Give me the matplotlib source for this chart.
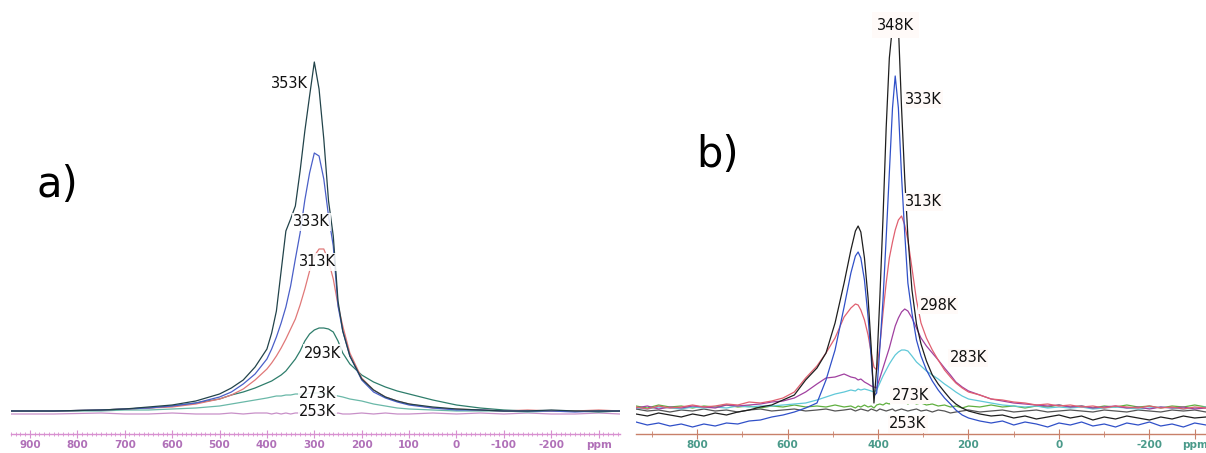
import numpy as np
import matplotlib
matplotlib.use("Agg")
import matplotlib.pyplot as plt
from matplotlib.ticker import MultipleLocator, FixedLocator, FixedFormatter

# ---- panel a) : shift (ppm) and intensity ----
ppm_a = [940, 850, 750, 700, 650, 600, 550, 500, 475, 450, 425, 400,
         390, 380, 370, 360, 350, 340, 330, 320, 310, 300,
         290, 280, 270, 260, 250, 240, 225, 200, 175, 150, 125, 100, 50, 0,
         -50, -100, -150, -200, -250, -300, -345]

a_353 = [0, 0, 1, 2, 4, 6, 10, 17, 23, 31, 44, 62,
         78, 100, 140, 180, 192, 205, 240, 280, 315, 349,
         322, 272, 210, 175, 110, 80, 55, 32, 21, 14, 10, 7, 4, 2,
         1, 0, 0, 1, 0, 0, 0]
a_333 = [0, 0, 1, 2, 3, 5, 8, 14, 19, 27, 37, 52,
         62, 74, 88, 104, 125, 152, 178, 211, 238, 258,
         255, 232, 195, 165, 105, 80, 55, 31, 19, 13, 9, 6, 3, 1,
         1, 0, 0, 0, -1, 0, 0]
a_313 = [0, 0, 1, 2, 3, 4, 7, 12, 16, 22, 31, 42,
         48, 55, 63, 72, 82, 92, 106, 122, 140, 155,
         162, 162, 150, 132, 106, 85, 58, 33, 21, 14, 10, 7, 3, 2,
         1, 0, 1, 0, 0, 1, 0]
a_293 = [0, 0, 1, 2, 3, 5, 8, 12, 16, 19, 23, 28,
         30, 33, 36, 40, 46, 52, 60, 70, 77, 81,
         83, 83, 82, 79, 70, 58, 47, 36, 29, 24, 20, 17, 11, 6,
         3, 1, 0, 0, 0, -1, 0]
a_273 = [0, 0, 0, 1, 1, 2, 3, 5, 7, 9, 11, 13,
         14, 15, 15, 16, 16, 17, 17, 17, 18, 18,
         18, 17, 17, 16, 15, 14, 12, 10, 7, 5, 3, 2, 1, 0,
         0, 0, -1, 0, 0, 0, 0]
a_253 = [-3, -3, -2, -3, -3, -2, -3, -3, -2, -3, -2, -2,
         -3, -2, -3, -2, -3, -2, -2, -3, -2, -2,
         -3, -2, -2, -3, -2, -3, -3, -2, -3, -2, -3, -3, -2, -3,
         -2, -3, -2, -3, -3, -2, -3]

temps_a = ['353K', '333K', '313K', '293K', '273K', '253K']
colors_a = ['#22434a', '#4a5fc8', '#e07878', '#2e7d6b', '#6ab8a8', '#c890c8']
label_pos_a = [(352, 328), (306, 189), (293, 149), (283, 58), (293, 18), (293, -1)]
ticks_a = [900, 800, 700, 600, 500, 400, 300, 200, 100, 0, -100, -200, -300]
ticklabels_a = ['900', '800', '700', '600', '500', '400', '300', '200', '100',
                '0', '-100', '-200', 'ppm']

# ---- panel b) ----
ppm_b = [935, 910, 885, 860, 835, 810, 785, 760, 735, 710, 685, 660, 635, 610, 585, 560, 535,
         515, 495, 475, 460, 450, 444, 438, 430, 422, 415, 409, 403, 396, 389, 382, 375,
         368, 362, 355, 348, 341, 334, 325, 315, 305, 293, 280, 267, 253, 240, 228, 214,
         200, 175, 150, 125, 100, 75, 50, 25, 0, -25, -50, -75, -100, -125, -150, -175,
         -200, -225, -250, -275, -300, -325]

b_348 = [-6, -8, -5, -7, -9, -6, -8, -5, -7, -4, -2, 1, 3, 8, 13, 28, 40,
         55, 85, 125, 158, 177, 182, 176, 150, 110, 60, 5, 40, 110, 190, 280, 350,
         382, 388, 382, 300, 230, 172, 118, 84, 64, 47, 33, 24, 16, 9, 4, 0,
         -3, -6, -8, -7, -10, -8, -11, -9, -7, -10, -8, -12, -9, -11, -8, -10,
         -12, -9, -11, -8, -10, -9]
b_333 = [-14, -17, -15, -18, -16, -19, -16, -18, -15, -16, -13, -12, -9, -7, -4, 0, 5,
         28, 58, 101, 135, 152, 156, 150, 128, 91, 50, 12, 15, 60, 108, 170, 235,
         300, 332, 300, 232, 175, 125, 95, 68, 52, 38, 27, 18, 10, 4, -2, -7,
         -10, -13, -15, -13, -17, -14, -16, -19, -15, -17, -14, -18, -16, -19, -15, -17,
         -14, -18, -16, -19, -15, -17]
b_313 = [1, -1, 2, 0, 1, 3, 1, 2, 4, 3, 6, 5, 7, 10, 16, 30, 42,
         55, 70, 91, 100, 104, 103, 98, 88, 73, 55, 41, 38, 62, 95, 125, 150,
         166, 178, 188, 192, 183, 168, 140, 108, 85, 70, 58, 48, 38, 31, 25, 20,
         16, 13, 9, 8, 6, 5, 3, 4, 2, 3, 1, 2, 0, 2, 1, 0,
         2, 0, 1, -1, 1, 0]
b_298 = [0, 2, -1, 1, 0, 2, 1, 0, 3, 2, 3, 4, 6, 7, 10, 16, 24,
         30, 31, 34, 31, 30, 28, 29, 26, 24, 22, 21, 20, 30, 40, 50, 60,
         72, 82, 90, 96, 99, 97, 90, 80, 70, 62, 55, 48, 40, 33, 26, 21,
         17, 13, 9, 7, 5, 4, 3, 2, 3, 1, 2, 0, 1, 2, 0, 1,
         -1, 1, 0, 1, -1, 0]
b_283 = [0, -1, 1, 0, -1, 1, 0, 1, 0, 2, 1, 2, 2, 3, 4, 5, 8,
         11, 14, 16, 18, 17, 19, 18, 19, 18, 17, 16, 18, 25, 32, 38, 44,
         49, 53, 56, 58, 58, 57, 52, 46, 42, 37, 33, 29, 24, 20, 16, 12,
         9, 7, 5, 3, 2, 1, 2, 0, 1, 0, 1, -1, 0, 1, 0, -1,
         0, 1, 0, -1, 0, 1]
b_273 = [2, 0, 3, 1, 2, 0, 2, 1, 3, 1, 2, 0, 2, 1, 3, 1, 2,
         1, 3, 1, 2, 0, 2, 1, 3, 1, 2, 0, 3, 4, 3, 5, 4,
         6, 5, 7, 5, 6, 4, 6, 4, 5, 3, 4, 2, 3, 1, 2, 0,
         2, 1, 3, 1, 2, 0, 2, 1, 3, 1, 2, 0, 2, 1, 3, 1,
         2, 0, 2, 1, 3, 1]
b_253 = [-1, -3, -2, -4, -2, -3, -1, -3, -2, -4, -2, -1, -3, -2, -1, -3, -2,
         -1, -3, -2, -1, -3, -2, -1, -2, -3, -1, -2, -3, -1, -2, -3, -2,
         -1, -3, -2, -1, -2, -3, -2, -1, -3, -2, -4, -2, -3, -5, -4, -3,
         -2, -4, -3, -2, -4, -3, -2, -4, -3, -2, -3, -4, -2, -3, -4, -2,
         -3, -4, -2, -3, -2, -4]

temps_b = ['348K', '333K', '313K', '298K', '283K', '273K', '253K']
colors_b = ['#1e1e1e', '#3050c8', '#e06070', '#a040a0', '#60c8d8', '#60b040', '#555555']
label_pos_b = [(362, 383), (300, 309), (300, 206), (267, 103), (201, 50), (329, 13), (334, -16)]
ticks_b = [800, 600, 400, 200, 0, -200, -300]
ticklabels_b = ['800', '600', '400', '200', '0', '-200', 'ppm']

W, H = 1206, 453
fig = plt.figure(figsize=(W / 100, H / 100), dpi=100)
fig.patch.set_facecolor('white')


def style_axis(ax, col_line, col_text, major_len, minor_len):
    for s in ['top', 'left', 'right']:
        ax.spines[s].set_visible(False)
    ax.spines['bottom'].set_color(col_line)
    ax.spines['bottom'].set_linewidth(1.0)
    ax.set_yticks([])
    ax.tick_params(axis='x', which='major', direction='inout', length=major_len,
                   color=col_line, labelcolor=col_text, labelsize=7.5, pad=1)
    ax.tick_params(axis='x', which='minor', direction='inout', length=minor_len,
                   color=col_line)
    for t in ax.get_xticklabels():
        t.set_fontweight('bold')


# panel a
ax1 = fig.add_axes([11 / W, 19 / H, (620 - 11) / W, 434 / H])
spectra_a = [a_353, a_333, a_313, a_293, a_273, a_253]
for vals, col in zip(spectra_a[::-1], colors_a[::-1]):
    ax1.plot(ppm_a, vals, color=col, linewidth=0.9)
ax1.set_xlim(940, -345)
ax1.set_ylim(-23, 411)
ax1.xaxis.set_major_locator(FixedLocator(ticks_a))
ax1.xaxis.set_major_formatter(FixedFormatter(ticklabels_a))
ax1.xaxis.set_minor_locator(MultipleLocator(10))
style_axis(ax1, '#d890d0', '#b070b8', 6, 3)
for name, (px, py) in zip(temps_a, label_pos_a):
    ax1.text(px, py, name, ha='center', va='center', fontsize=10.5, color='#111111',
             bbox=dict(boxstyle='square,pad=0.08', fc='white', ec='none', alpha=0.85))

# panel b
ax2 = fig.add_axes([636 / W, 19 / H, (W - 636) / W, 434 / H])
spectra_b = [b_348, b_333, b_313, b_298, b_283, b_273, b_253]
for vals, col in zip(spectra_b[::-1], colors_b[::-1]):
    ax2.plot(ppm_b, vals, color=col, linewidth=0.9)
ax2.set_xlim(935, -325)
ax2.set_ylim(-26, 408)
ax2.xaxis.set_major_locator(FixedLocator(ticks_b))
ax2.xaxis.set_major_formatter(FixedFormatter(ticklabels_b))
ax2.xaxis.set_minor_locator(FixedLocator([900, 700, 500, 300, 100, -100]))
style_axis(ax2, '#c8806a', '#4a9a8a', 7, 4)
for name, (px, py) in zip(temps_b, label_pos_b):
    pad = 0.35 if name == '348K' else 0.08
    ax2.text(px, py, name, ha='center', va='center', fontsize=10.5, color='#111111',
             zorder=5,
             bbox=dict(boxstyle='square,pad=%.2f' % pad, fc='#fffaf8', ec='none'))

fig.text(57 / W, 1 - 185 / H, 'a)', fontsize=30, ha='center', va='center')
fig.text(718 / W, 1 - 155 / H, 'b)', fontsize=30, ha='center', va='center')

fig.savefig('out.png', dpi=100)
